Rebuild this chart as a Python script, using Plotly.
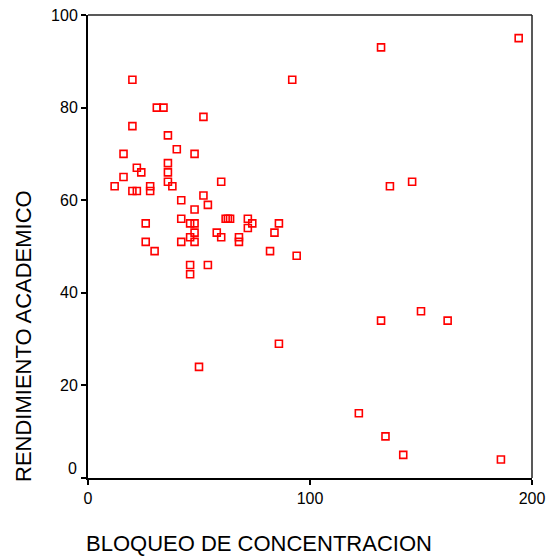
import plotly.graph_objects as go

# Bloqueo de concentración vs. rendimiento académico
bloqueo = [12, 16, 16, 20, 20, 20, 22, 22, 24, 26, 26, 28, 28, 30, 31, 34, 36, 36, 36, 36,
           38, 40, 42, 42, 42, 46, 46, 46, 46, 48, 48, 48, 48, 48, 50, 52, 52, 54, 54, 58,
           60, 60, 62, 63, 64, 68, 68, 72, 72, 74, 82, 84, 86, 86, 92, 94, 122, 132, 132,
           134, 136, 142, 146, 150, 162, 186, 194]
rendimiento = [63, 70, 65, 86, 76, 62, 67, 62, 66, 55, 51, 63, 62, 49, 80, 80, 74, 68, 66, 64,
               63, 71, 60, 56, 51, 55, 52, 46, 44, 70, 58, 55, 53, 51, 24, 78, 61, 59, 46, 53,
               64, 52, 56, 56, 56, 52, 51, 56, 54, 55, 49, 53, 55, 29, 86, 48, 14, 93, 34,
               9, 63, 5, 64, 36, 34, 4, 95]

x_ticks = [0, 100, 200]
y_ticks = [0, 20, 40, 60, 80, 100]

FONT = "Liberation Sans, Arial, sans-serif"
W, H = 548, 559
ML, MR, MT, MB = 88, 16, 15, 81
PW, PH = W - ML - MR, H - MT - MB


def px_to_paper(px, py):
    """Convert a page pixel position to paper coordinates of the plotting area."""
    return (px - ML) / PW, 1 - (py - MT) / PH


fig = go.Figure(
    go.Scatter(
        x=bloqueo,
        y=rendimiento,
        mode="markers",
        marker=dict(symbol="square-open", size=7, color="#ff0000",
                    line=dict(color="#ff0000", width=1.6)),
        hoverinfo="x+y",
    )
)

axis_common = dict(
    showgrid=False, zeroline=False, showline=True, linecolor="black", linewidth=2,
    ticks="outside", ticklen=5, tickwidth=1.5, tickcolor="black",
    tickfont=dict(family=FONT, size=16, color="black"), mirror=False, automargin=False,
)

fig.update_xaxes(range=[0, 200], tickvals=x_ticks, ticktext=[str(v) for v in x_ticks],
                 **axis_common)
fig.update_yaxes(range=[0, 100], tickvals=y_ticks,
                 ticktext=["" if v == 0 else str(v) for v in y_ticks], **axis_common)

xt_x, xt_y = px_to_paper(259, 558)
yt_x, yt_y = px_to_paper(23, 336)

fig.update_layout(
    width=W, height=H, autosize=False,
    margin=dict(l=ML, r=MR, t=MT, b=MB, pad=0),
    paper_bgcolor="white", plot_bgcolor="white",
    showlegend=False,
    shapes=[
        dict(type="line", xref="paper", yref="paper", x0=0, x1=1, y0=1, y1=1,
             line=dict(color="#222222", width=1.5)),
        dict(type="line", xref="paper", yref="paper", x0=1, x1=1, y0=0, y1=1,
             line=dict(color="#222222", width=1.5)),
    ],
    annotations=[
        # the zero label of the vertical axis sits slightly above its tick
        dict(x=0, y=0, xref="paper", yref="y", text="0", showarrow=False,
             xanchor="right", yanchor="middle", xshift=-9, yshift=10,
             font=dict(family=FONT, size=16, color="black")),
        dict(x=xt_x, y=xt_y, xref="paper", yref="paper", text="BLOQUEO DE CONCENTRACION",
             showarrow=False, xanchor="center", yanchor="bottom",
             font=dict(family=FONT, size=22, color="black")),
        dict(x=yt_x, y=yt_y, xref="paper", yref="paper", text="RENDIMIENTO ACADEMICO",
             textangle=-90, showarrow=False, xanchor="center", yanchor="middle",
             font=dict(family=FONT, size=22, color="black")),
    ],
)

fig.write_html(
    "out.html",
    config={"responsive": False, "displayModeBar": False},
    post_script="document.body.style.margin='0';document.body.style.overflow='hidden';",
)
